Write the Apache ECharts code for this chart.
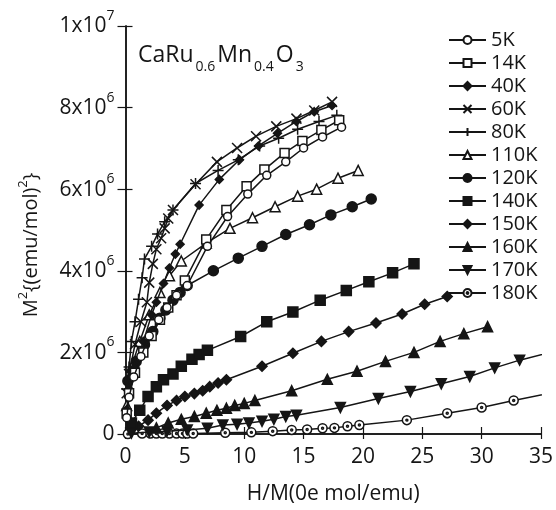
<!DOCTYPE html>
<html>
<head>
<meta charset="utf-8">
<script src="https://cdn.jsdelivr.net/npm/echarts@6/dist/echarts.min.js"></script>
<style>
  html, body { margin: 0; padding: 0; background: #fff; }
  #chart { width: 556px; height: 510px; }
</style>
</head>
<body>
<div id="chart"></div>
<script>
// Arrott plot of CaRu0.6Mn0.4O3: M^2 against H/M for each temperature.
// x: H/M (Oe mol/emu), y: M^2 in units of 10^6 (emu/mol)^2.

const temperatures = ['5K', '14K', '40K', '60K', '80K', '110K', '120K', '140K', '150K', '160K', '170K', '180K'];

const xTicks = [0, 5, 10, 15, 20, 25, 30, 35];
const yTicks = [0, 2, 4, 6, 8, 10];

const t5K = [[0.1,0.4],[0.3,0.9],[0.7,1.4],[1.3,1.9],[2.0,2.4],[2.8,2.8],[3.5,3.1],[4.3,3.4],[5.2,3.64],[6.9,4.60],[8.6,5.33],[10.3,5.88],[11.9,6.34],[13.5,6.67],[15.0,7.01],[16.6,7.28],[18.2,7.52]];
const t14K = [[0.1,0.5],[0.3,1.0],[0.8,1.5],[1.5,2.0],[2.2,2.4],[2.9,2.8],[3.6,3.1],[4.3,3.4],[5.0,3.76],[6.8,4.77],[8.5,5.49],[10.2,6.07],[11.7,6.48],[13.4,6.89],[14.9,7.18],[16.5,7.45],[18.0,7.69]];
const t40K = [[0.1,0.6],[0.3,1.1],[0.8,1.64],[1.5,2.27],[2.2,2.92],[2.6,3.23],[3.2,3.69],[3.7,4.07],[4.2,4.41],[4.6,4.65],[6.2,5.61],[7.9,6.24],[9.6,6.72],[11.2,7.06],[12.8,7.37],[14.4,7.66],[15.9,7.90],[17.4,8.05]];
const t60K = [[0.1,1.0],[0.3,1.47],[0.8,2.2],[1.3,2.75],[1.8,3.23],[2.0,3.71],[2.3,4.17],[2.6,4.53],[3.0,4.80],[3.3,5.04],[3.6,5.28],[4.0,5.49],[5.9,6.12],[7.7,6.67],[9.4,7.01],[11.0,7.30],[12.7,7.54],[14.4,7.73],[15.9,7.93],[17.4,8.14]];
const t80K = [[0.1,1.1],[0.3,1.64],[0.5,2.27],[0.8,2.75],[1.1,3.3],[1.4,3.83],[1.6,4.29],[2.2,4.6],[2.7,4.9],[3.3,5.2],[4.0,5.49],[5.9,6.14],[7.8,6.46],[9.5,6.72],[11.3,7.06],[12.9,7.25],[14.5,7.47],[16.3,7.66],[17.8,7.81]];
const t110K = [[0.1,0.7],[0.5,1.64],[1.2,2.27],[2.0,2.92],[2.9,3.47],[3.7,3.88],[4.7,4.24],[6.8,4.68],[8.8,5.04],[10.7,5.30],[12.6,5.57],[14.5,5.83],[16.1,6.0],[17.9,6.27],[19.6,6.46]];
const t120K = [[0.2,1.30],[0.9,1.78],[1.6,2.19],[2.3,2.51],[2.9,2.84],[3.4,3.04],[4.0,3.28],[4.6,3.47],[5.2,3.64],[7.4,4.0],[9.5,4.31],[11.5,4.60],[13.5,4.89],[15.5,5.13],[17.3,5.37],[19.1,5.57],[20.7,5.76]];
const t140K = [[0.5,0.27],[1.2,0.58],[1.9,0.92],[2.6,1.16],[3.2,1.33],[4.0,1.47],[4.7,1.66],[5.6,1.83],[6.2,1.95],[6.9,2.05],[9.7,2.39],[11.9,2.75],[14.1,2.99],[16.4,3.28],[18.6,3.52],[20.5,3.73],[22.5,3.95],[24.3,4.17]];
const t150K = [[1.1,0.19],[1.9,0.34],[2.6,0.51],[3.5,0.70],[4.3,0.82],[5.0,0.92],[5.8,0.99],[6.5,1.06],[7.1,1.16],[7.8,1.25],[8.5,1.33],[11.5,1.66],[14.1,1.98],[16.5,2.27],[18.8,2.51],[21.1,2.72],[23.3,2.94],[25.2,3.18],[27.1,3.37]];
const t160K = [[2.6,0.15],[3.6,0.27],[4.7,0.36],[5.8,0.43],[6.8,0.51],[7.7,0.58],[8.5,0.63],[9.2,0.70],[10.0,0.75],[10.9,0.82],[14.0,1.06],[17.0,1.34],[19.5,1.54],[21.9,1.78],[24.3,2.0],[26.5,2.27],[28.5,2.46],[30.5,2.63]];
const t170K = [[0.5,0.02],[2.0,0.05],[3.5,0.07],[5.2,0.10],[6.9,0.14],[8.2,0.22],[9.4,0.24],[10.4,0.27],[11.5,0.31],[12.5,0.36],[13.5,0.43],[14.4,0.46],[18.1,0.65],[21.3,0.87],[24.0,1.04],[26.6,1.23],[29.0,1.41],[31.1,1.62],[33.2,1.81],[36.5,2.05]];
const t180K = [[0.2,0.0],[1.4,0.01],[2.1,0.01],[2.6,0.01],[3.1,0.01],[3.7,0.01],[4.3,0.01],[4.8,0.01],[5.2,0.01],[5.7,0.01],[8.4,0.03],[10.6,0.04],[12.4,0.07],[14.0,0.10],[15.3,0.11],[16.6,0.14],[17.6,0.15],[18.7,0.19],[19.7,0.22],[23.7,0.34],[27.1,0.51],[30.0,0.65],[32.7,0.82],[36.5,1.05]];

const seriesValues = [t5K, t14K, t40K, t60K, t80K, t110K, t120K, t140K, t150K, t160K, t170K, t180K];

const INK = '#151515';
const FONT = 'Open Sans';

// marker look per temperature: [symbol, size, fill]
const markers = [
  ['circle', 8, '#fff'],
  ['rect', 9, '#fff'],
  ['diamond', 8, INK],
  ['path://M0,0L10,10M10,0L0,10', 10, 'transparent'],
  ['path://M5,0L5,10M0,5L10,5', 11, 'transparent'],
  ['triangle', 10, '#fff'],
  ['circle', 10, INK],
  ['rect', 10, INK],
  ['diamond', 10, INK],
  ['triangle', 10, INK],
  ['path://M0,0L10,0L5,9Z', 10, INK],
  ['path://M5,0A5,5,0,1,1,4.99,0ZM5,3.9A1.1,1.1,0,1,1,4.99,3.9Z', 9, '#fff']
];

const series = temperatures.map((name, i) => ({
  name: name,
  type: 'line',
  data: seriesValues[i],
  xAxisIndex: 0,
  yAxisIndex: 0,
  symbol: markers[i][0],
  symbolSize: markers[i][1],
  showAllSymbol: true,
  clip: true,
  z: 20 - i,
  lineStyle: { color: INK, width: 1.5 },
  itemStyle: { color: markers[i][2], borderColor: INK, borderWidth: 1.5 },
  emphasis: { disabled: true },
  animation: false
}));

const supRich = {
  b: { fontFamily: FONT, fontSize: 21, color: INK, lineHeight: 22, verticalAlign: 'bottom' },
  s: { fontFamily: FONT, fontSize: 14, color: INK, lineHeight: 14, verticalAlign: 'bottom', padding: [0, 0, 14, 0] }
};

function yLabel(v) {
  if (v === 0) return '{b|0}';
  if (v === 10) return '{b|1x10}{s|7}';
  return '{b|' + v + 'x10}{s|6}';
}

const chart = echarts.init(document.getElementById('chart'), null, { renderer: 'canvas' });

chart.setOption({
  backgroundColor: '#fff',
  animation: false,
  title: {
    text: 'CaRu{sub|0.6}Mn{sub|0.4}O{sub|3}',
    left: 133,
    top: 38,
    textStyle: {
      rich: {
        sub: { fontFamily: FONT, fontSize: 14, color: INK, lineHeight: 14, verticalAlign: 'top', padding: [17, 2, 0, 2] }
      },
      fontFamily: FONT,
      fontSize: 23,
      fontWeight: 'normal',
      color: INK,
      lineHeight: 24,
      verticalAlign: 'top'
    }
  },
  legend: {
    data: temperatures,
    orient: 'vertical',
    left: 448,
    top: 30,
    padding: 0,
    itemWidth: 37,
    itemHeight: 10,
    itemGap: 3,
    selectedMode: false,
    textStyle: { fontFamily: FONT, fontSize: 20, color: INK, lineHeight: 20 }
  },
  grid: { left: 125.5, right: 13, top: 26, bottom: 69, containLabel: false },
  xAxis: [
    {
      type: 'value',
      min: xTicks[0],
      max: xTicks[xTicks.length - 1],
      interval: 5,
      position: 'bottom',
      name: 'H/M(0e mol/emu)',
      nameLocation: 'middle',
      nameGap: 50,
      nameTextStyle: { fontFamily: FONT, fontSize: 21, color: INK },
      axisLine: { lineStyle: { color: INK, width: 1.5 } },
      axisTick: { inside: true, length: 7, lineStyle: { color: INK, width: 1.2 } },
      axisLabel: { fontFamily: FONT, fontSize: 21, color: INK, margin: 13 },
      splitLine: { show: false }
    },
    {
      type: 'value',
      min: xTicks[0],
      max: xTicks[xTicks.length - 1],
      interval: 5,
      position: 'top',
      axisLine: { lineStyle: { color: INK, width: 1.5 } },
      axisTick: { inside: true, length: 5, lineStyle: { color: INK, width: 1.2 } },
      axisLabel: { show: false },
      splitLine: { show: false }
    }
  ],
  yAxis: [
    {
      type: 'value',
      min: yTicks[0],
      max: yTicks[yTicks.length - 1],
      interval: 2,
      position: 'left',
      name: 'M{s|2}{(emu/mol){s|2}}',
      nameLocation: 'middle',
      nameRotate: 90,
      nameGap: 84,
      nameTextStyle: {
        fontFamily: FONT, fontSize: 20, color: INK,
        padding: [0, 30, 0, 0],
        rich: {
          s: { fontFamily: FONT, fontSize: 13, color: INK, lineHeight: 13, verticalAlign: 'bottom', padding: [0, 0, 12, 0] }
        }
      },
      axisLine: { lineStyle: { color: INK, width: 1.5 } },
      axisTick: { inside: true, length: 7, lineStyle: { color: INK, width: 1.2 } },
      axisLabel: { formatter: yLabel, rich: supRich, margin: 11 },
      splitLine: { show: false }
    },
    {
      type: 'value',
      min: yTicks[0],
      max: yTicks[yTicks.length - 1],
      interval: 2,
      position: 'right',
      axisLine: { lineStyle: { color: INK, width: 1.5 } },
      axisTick: { inside: true, length: 8, lineStyle: { color: INK, width: 1.2 } },
      axisLabel: { show: false },
      splitLine: { show: false }
    }
  ],
  series: series
});
</script>
</body>
</html>
